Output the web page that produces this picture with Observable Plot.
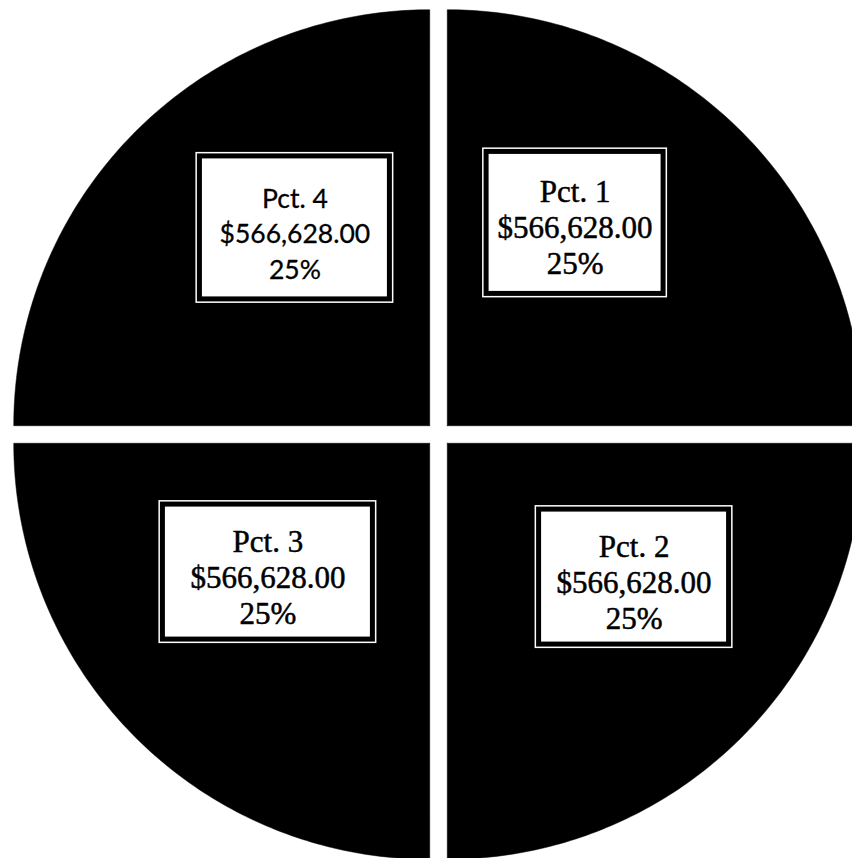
<!DOCTYPE html>
<html>
<head>
<meta charset="utf-8">
<script src="https://cdn.jsdelivr.net/npm/d3@7"></script>
<script src="https://cdn.jsdelivr.net/npm/@observablehq/plot@0.6"></script>
<style>
  html, body { margin: 0; padding: 0; background: #fff; }
</style>
</head>
<body>
<div id="chart"></div>
<script>
// ---- data ----
const categories = ["Pct. 1", "Pct. 2", "Pct. 3", "Pct. 4"];
const values = [566628, 566628, 566628, 566628];

// ---- layout (pixels) ----
const W = 852, H = 858;
const CX = 438, CY = 434, R = 416;       // pie centre and radius
const EXPLODE = 12.4;                     // slice offset along its mid-angle
const LABEL_R = 237;                      // label anchor radius
const labelNudge = [[-31, -44], [28, -25], [-3, -30], [24, -39]];
const boxSize = [[185, 150], [198, 143], [218, 143], [198, 151]];
const labelFont = ["serif", "serif", "serif", "sans"];
const TEXT_DY = 4;

const fmtMoney = d3.format("$,.2f");
const fmtPct = d3.format(".0%");
const total = d3.sum(values);

const arcs = d3.pie().sort(null).startAngle(0).endAngle(2 * Math.PI)(values);

// slice polygons in unit coordinates (y up)
const slicePts = [];
const labels = [];
arcs.forEach((a, i) => {
  const mid = (a.startAngle + a.endAngle) / 2;
  const d = EXPLODE / R;
  const ox = d * Math.sin(mid), oy = d * Math.cos(mid);
  slicePts.push({cat: categories[i], x: ox, y: oy});
  const n = 120;
  for (let k = 0; k <= n; k++) {
    const t = a.startAngle + (a.endAngle - a.startAngle) * k / n;
    slicePts.push({cat: categories[i], x: ox + Math.sin(t), y: oy + Math.cos(t)});
  }
  slicePts.push({cat: categories[i], x: ox, y: oy});

  const lr = LABEL_R / R;
  const ax = lr * Math.sin(mid) + labelNudge[i][0] / R;
  const ay = lr * Math.cos(mid) - labelNudge[i][1] / R;
  const [bw, bh] = boxSize[i];
  labels.push({
    cat: categories[i],
    font: labelFont[i],
    text: `${categories[i]}\n${fmtMoney(values[i])}\n${fmtPct(values[i] / total)}`,
    x: ax, y: ay - TEXT_DY / R,
    x1: ax - bw / 2 / R, x2: ax + bw / 2 / R,
    y1: ay - bh / 2 / R, y2: ay + bh / 2 / R
  });
});

const chart = Plot.plot({
  width: W,
  height: H,
  margin: 0,
  x: {domain: [-CX / R, (W - CX) / R], range: [0, W], axis: null},
  y: {domain: [(CY - H) / R, CY / R], range: [H, 0], axis: null},
  style: {background: "#fff"},
  marks: [
    Plot.line(slicePts, {x: "x", y: "y", z: "cat", fill: "black", stroke: "black", strokeWidth: 0.5}),
    Plot.rect(labels, {x1: "x1", x2: "x2", y1: "y1", y2: "y2", fill: "white"}),
    Plot.rect(labels, {x1: "x1", x2: "x2", y1: "y1", y2: "y2", inset: 4, fill: "white", stroke: "black", strokeWidth: 5}),
    Plot.text(labels.filter(d => d.font === "serif"), {
      x: "x", y: "y", text: "text", fill: "black", stroke: "black", strokeWidth: 0.5,
      fontFamily: "Liberation Serif", fontSize: 31, lineHeight: 1.16, lineAnchor: "middle"
    }),
    Plot.text(labels.filter(d => d.font === "sans"), {
      x: "x", y: "y", text: "text", fill: "black", stroke: "black", strokeWidth: 0.3,
      fontFamily: "Lato", fontSize: 26.5, lineHeight: 1.34, lineAnchor: "middle"
    })
  ]
});
document.getElementById("chart").appendChild(chart);
</script>
</body>
</html>
